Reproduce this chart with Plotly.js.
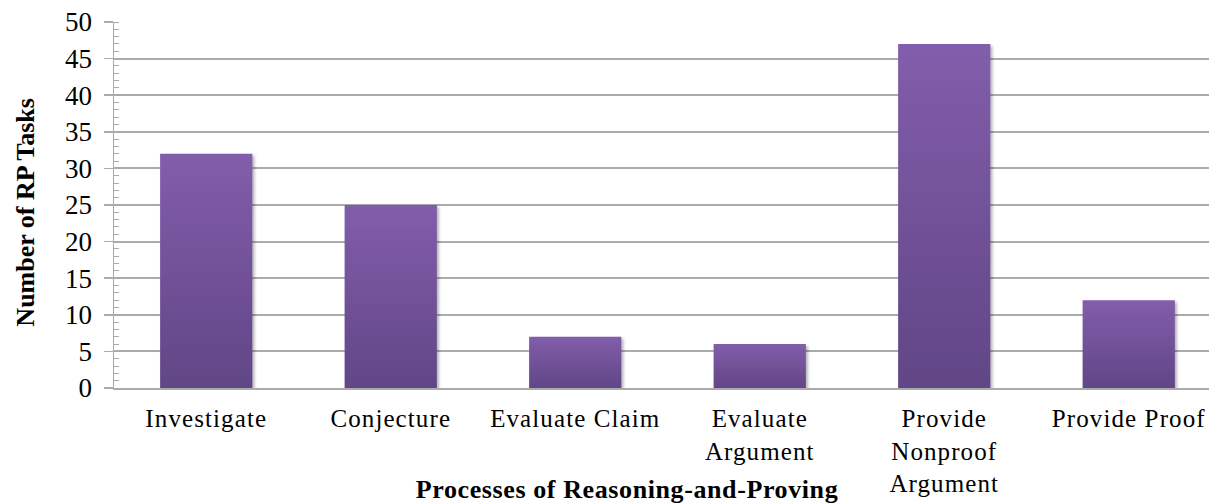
<!DOCTYPE html>
<html>
<head>
<meta charset="utf-8">
<script src="https://cdn.plot.ly/plotly-3.0.1.min.js"></script>
<style>
  html, body { margin: 0; padding: 0; background: #ffffff; overflow: hidden; }
  #chart { width: 1217px; height: 504px; }
  #chart .xtick text { letter-spacing: 1.1px; }
</style>
</head>
<body>
<div id="chart"></div>
<script>
// Tasks per reasoning-and-proving process
const categories = [
  'Investigate',
  'Conjecture',
  'Evaluate Claim',
  'Evaluate<br>Argument',
  'Provide<br>Nonproof<br>Argument',
  'Provide Proof'
];
const taskCounts = [32, 25, 7, 6, 47, 12];
const yTickValues = [0, 5, 10, 15, 20, 25, 30, 35, 40, 45, 50];

const serif = '"Liberation Serif", "Times New Roman", serif';
const gridGray = '#ababab';

const trace = {
  type: 'bar',
  x: categories.map((_, i) => i),
  y: taskCounts,
  marker: { color: '#7356a0', line: { width: 0 } },
  hoverinfo: 'x+y'
};

const layout = {
  width: 1217,
  height: 504,
  margin: { l: 114, r: 8, t: 22, b: 116 },
  paper_bgcolor: '#ffffff',
  plot_bgcolor: '#ffffff',
  showlegend: false,
  bargap: 0.5,
  font: { family: serif, size: 25, color: '#000000' },
  xaxis: {
    range: [-0.5, 5.435],
    tickmode: 'array',
    tickvals: categories.map((_, i) => i),
    ticktext: categories,
    ticks: '',
    showgrid: false,
    zeroline: false,
    showline: true,
    linecolor: gridGray,
    linewidth: 2,
    tickfont: { family: serif, size: 25, color: '#000000' },
    ticklabelstandoff: 7,
    fixedrange: true
  },
  yaxis: {
    range: [0, 50],
    tickmode: 'array',
    tickvals: yTickValues,
    ticktext: yTickValues.map(String),
    ticks: 'outside',
    ticklen: 9,
    tickwidth: 1.5,
    tickcolor: gridGray,
    showgrid: true,
    gridcolor: gridGray,
    gridwidth: 2,
    zeroline: false,
    showline: true,
    linecolor: gridGray,
    linewidth: 1.5,
    tickfont: { family: serif, size: 27, color: '#000000' },
    ticklabelstandoff: 6,
    minor: {
      dtick: 1,
      ticks: 'inside',
      ticklen: 5,
      tickwidth: 1,
      tickcolor: gridGray,
      showgrid: false
    },
    fixedrange: true
  },
  annotations: [
    {
      text: '<b>Processes of Reasoning-and-Proving</b>',
      xref: 'paper', yref: 'paper',
      x: 0.4685, y: -0.276,
      xanchor: 'center', yanchor: 'middle',
      showarrow: false,
      font: { family: serif, size: 26, color: '#000000' }
    },
    {
      text: '<b>Number of RP Tasks</b>',
      xref: 'paper', yref: 'paper',
      x: -0.081, y: 0.48,
      xanchor: 'center', yanchor: 'middle',
      textangle: -90,
      showarrow: false,
      font: { family: serif, size: 26, color: '#000000' }
    }
  ]
};

Plotly.newPlot('chart', [trace], layout, { displayModeBar: false, staticPlot: true }).then(gd => {
  // Vertical shading and a soft drop shadow on every bar
  const svgNS = 'http://www.w3.org/2000/svg';
  const svg = gd.querySelector('svg.main-svg');
  let defs = svg.querySelector('defs');
  if (!defs) { defs = document.createElementNS(svgNS, 'defs'); svg.insertBefore(defs, svg.firstChild); }

  const grad = document.createElementNS(svgNS, 'linearGradient');
  grad.setAttribute('id', 'barShade');
  grad.setAttribute('x1', '0'); grad.setAttribute('y1', '0');
  grad.setAttribute('x2', '0'); grad.setAttribute('y2', '1');
  [['0%', '#825dab'], ['100%', '#614686']].forEach(([off, col]) => {
    const s = document.createElementNS(svgNS, 'stop');
    s.setAttribute('offset', off);
    s.setAttribute('stop-color', col);
    grad.appendChild(s);
  });
  defs.appendChild(grad);

  const filt = document.createElementNS(svgNS, 'filter');
  filt.setAttribute('id', 'barShadow');
  filt.setAttribute('x', '-20%'); filt.setAttribute('y', '-20%');
  filt.setAttribute('width', '140%'); filt.setAttribute('height', '140%');
  const ds = document.createElementNS(svgNS, 'feDropShadow');
  ds.setAttribute('dx', '2'); ds.setAttribute('dy', '2');
  ds.setAttribute('stdDeviation', '1.5');
  ds.setAttribute('flood-color', '#000000');
  ds.setAttribute('flood-opacity', '0.3');
  filt.appendChild(ds);
  defs.appendChild(filt);

  gd.querySelectorAll('.bars .point path').forEach(p => {
    p.style.fill = 'url(#barShade)';
    p.style.filter = 'url(#barShadow)';
  });

  // Slightly wider spacing on the horizontal axis title
  const notes = gd.querySelectorAll('.annotation-text');
  if (notes.length) notes[0].style.letterSpacing = '0.6px';
});
</script>
</body>
</html>
